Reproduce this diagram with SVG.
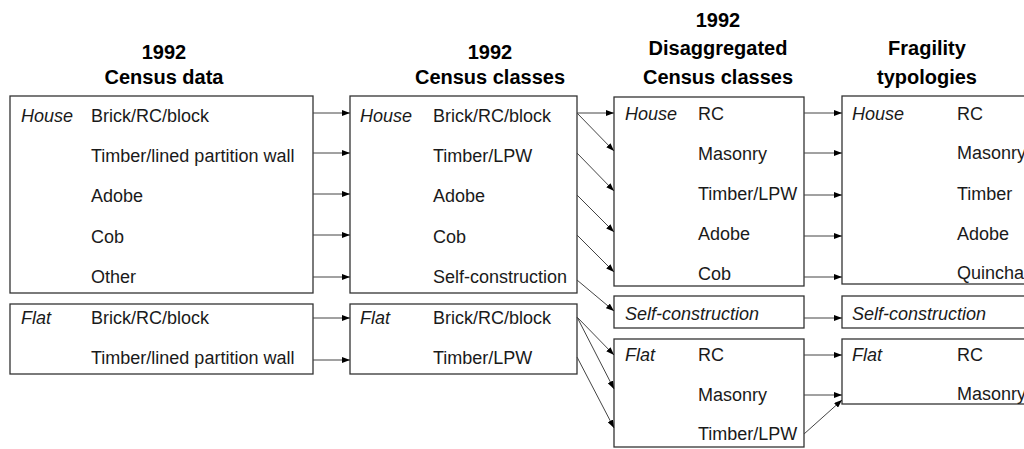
<svg xmlns="http://www.w3.org/2000/svg" width="1024" height="449" viewBox="0 0 1024 449">
<style>
.box{fill:#fff;stroke:#333;stroke-width:1.3}
.t{font-family:"Liberation Sans",Arial,sans-serif;font-size:18px;fill:#1a1a1a}
.i{font-style:italic}
.h{font-family:"Liberation Sans",Arial,sans-serif;font-size:20px;font-weight:bold;fill:#000;text-anchor:middle}
.c{stroke:#444;stroke-width:1;fill:none;marker-end:url(#ah)}
</style>
<defs>
<marker id="ah" viewBox="0 0 8 6" refX="8" refY="3" markerWidth="8" markerHeight="6" markerUnits="userSpaceOnUse" orient="auto">
<path d="M0,0 L8,3 L0,6 Z" fill="#000"/>
</marker>
</defs>
<rect width="1024" height="449" fill="#fff"/>
<g id="headers">
<text class="h" x="164" y="59">1992</text>
<text class="h" x="164" y="84">Census data</text>
<text class="h" x="490" y="59">1992</text>
<text class="h" x="490" y="84">Census classes</text>
<text class="h" x="718" y="27">1992</text>
<text class="h" x="718" y="55">Disaggregated</text>
<text class="h" x="718" y="84">Census classes</text>
<text class="h" x="927" y="55">Fragility</text>
<text class="h" x="927" y="84">typologies</text>
</g>
<g id="census-house">
<rect class="box" x="10" y="96" width="303" height="197"/>
<text class="t i" x="21" y="122">House</text>
<text class="t" x="91" y="122">Brick/RC/block</text>
<text class="t" x="91" y="162">Timber/lined partition wall</text>
<text class="t" x="91" y="202">Adobe</text>
<text class="t" x="91" y="243">Cob</text>
<text class="t" x="91" y="283">Other</text>
</g>
<g id="census-flat">
<rect class="box" x="10" y="304" width="303" height="70"/>
<text class="t i" x="21" y="324">Flat</text>
<text class="t" x="91" y="324">Brick/RC/block</text>
<text class="t" x="91" y="364">Timber/lined partition wall</text>
</g>
<g id="classes-house">
<rect class="box" x="350" y="96" width="227" height="197"/>
<text class="t i" x="360" y="122">House</text>
<text class="t" x="433" y="122">Brick/RC/block</text>
<text class="t" x="433" y="162">Timber/LPW</text>
<text class="t" x="433" y="202">Adobe</text>
<text class="t" x="433" y="243">Cob</text>
<text class="t" x="433" y="283">Self-construction</text>
</g>
<g id="classes-flat">
<rect class="box" x="350" y="304" width="227" height="70"/>
<text class="t i" x="360" y="324">Flat</text>
<text class="t" x="433" y="324">Brick/RC/block</text>
<text class="t" x="433" y="364">Timber/LPW</text>
</g>
<g id="disagg-house">
<rect class="box" x="614" y="97" width="190" height="189"/>
<text class="t i" x="625" y="120">House</text>
<text class="t" x="698" y="120">RC</text>
<text class="t" x="698" y="160">Masonry</text>
<text class="t" x="698" y="200">Timber/LPW</text>
<text class="t" x="698" y="240">Adobe</text>
<text class="t" x="698" y="280">Cob</text>
</g>
<g id="disagg-self">
<rect class="box" x="614" y="296" width="190" height="32"/>
<text class="t i" x="625" y="320">Self-construction</text>
</g>
<g id="disagg-flat">
<rect class="box" x="614" y="339" width="190" height="108"/>
<text class="t i" x="625" y="361">Flat</text>
<text class="t" x="698" y="361">RC</text>
<text class="t" x="698" y="401">Masonry</text>
<text class="t" x="698" y="440">Timber/LPW</text>
</g>
<g id="frag-house">
<rect class="box" x="842" y="96" width="200" height="188"/>
<text class="t i" x="852" y="120">House</text>
<text class="t" x="957" y="120">RC</text>
<text class="t" x="957" y="159">Masonry</text>
<text class="t" x="957" y="200">Timber</text>
<text class="t" x="957" y="240">Adobe</text>
<text class="t" x="957" y="279">Quincha</text>
</g>
<g id="frag-self">
<rect class="box" x="842" y="296" width="200" height="32"/>
<text class="t i" x="852" y="320">Self-construction</text>
</g>
<g id="frag-flat">
<rect class="box" x="842" y="339" width="200" height="65"/>
<text class="t i" x="852" y="361">Flat</text>
<text class="t" x="957" y="361">RC</text>
<text class="t" x="957" y="400">Masonry</text>
</g>
<g id="connectors">
<line class="c" x1="313" y1="113" x2="350" y2="113"/>
<line class="c" x1="313" y1="153" x2="350" y2="153"/>
<line class="c" x1="313" y1="194" x2="350" y2="194"/>
<line class="c" x1="313" y1="235" x2="350" y2="235"/>
<line class="c" x1="313" y1="277" x2="350" y2="277"/>
<line class="c" x1="313" y1="318" x2="350" y2="318"/>
<line class="c" x1="313" y1="360" x2="350" y2="360"/>
<line class="c" x1="577" y1="113" x2="614" y2="113"/>
<line class="c" x1="577" y1="113" x2="614" y2="151"/>
<line class="c" x1="577" y1="153" x2="614" y2="191"/>
<line class="c" x1="577" y1="195" x2="614" y2="232"/>
<line class="c" x1="577" y1="235" x2="614" y2="272"/>
<line class="c" x1="577" y1="280" x2="614" y2="311"/>
<line class="c" x1="577" y1="317" x2="614" y2="355"/>
<line class="c" x1="577" y1="317" x2="614" y2="389"/>
<line class="c" x1="577" y1="357" x2="614" y2="428"/>
<line class="c" x1="804" y1="113" x2="842" y2="113"/>
<line class="c" x1="804" y1="153" x2="842" y2="153"/>
<line class="c" x1="804" y1="195" x2="842" y2="195"/>
<line class="c" x1="804" y1="236" x2="842" y2="236"/>
<line class="c" x1="804" y1="277" x2="842" y2="277"/>
<line class="c" x1="804" y1="318" x2="842" y2="318"/>
<line class="c" x1="804" y1="355" x2="842" y2="355"/>
<line class="c" x1="804" y1="395" x2="842" y2="395"/>
<line class="c" x1="804" y1="434" x2="842" y2="400"/>
</g>
</svg>
